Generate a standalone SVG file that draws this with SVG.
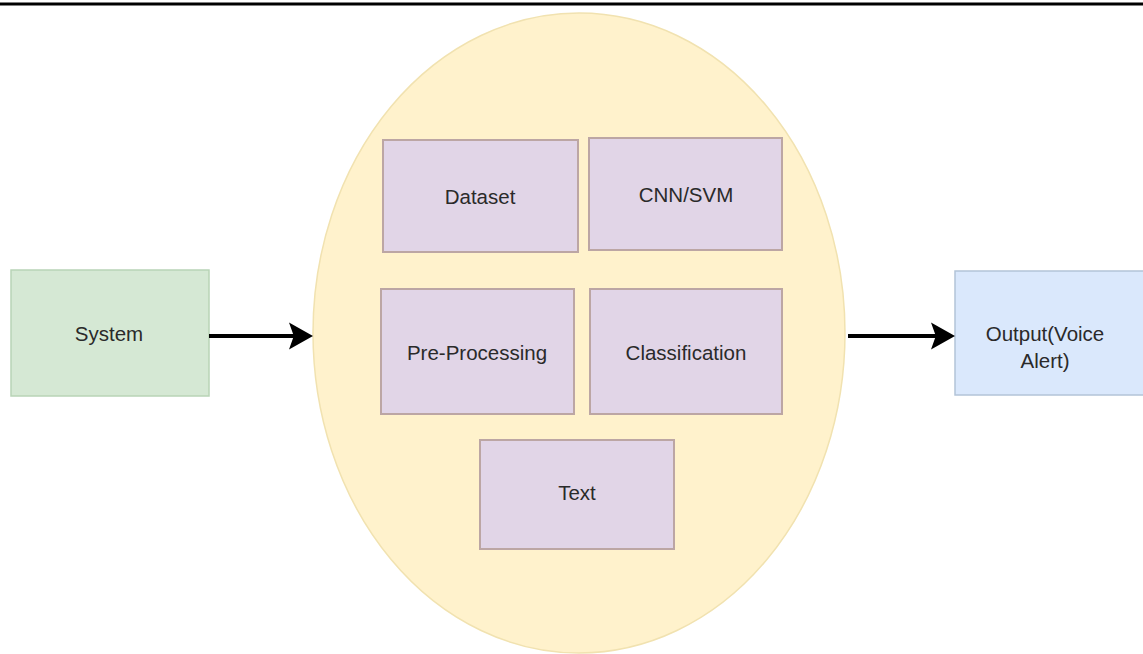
<svg xmlns="http://www.w3.org/2000/svg" width="1143" height="654" viewBox="0 0 1143 654">
<style>
.lbl{font-family:"Liberation Sans",Arial,sans-serif;font-size:20.5px;fill:#2a2a2a;text-anchor:middle;dominant-baseline:central}
.inner{fill:#e1d5e7;stroke:#bca6a4;stroke-width:2}
.conn{stroke:#000;stroke-width:4;fill:none}
</style>
<defs>
<marker id="ah" markerWidth="8" markerHeight="8" refX="2" refY="4" orient="auto" markerUnits="strokeWidth">
<path d="M0,0.6 L6,4 L0,7.4 L1.2,4 Z" fill="#000"/>
</marker>
</defs>
<rect width="1143" height="654" fill="#fff"/>
<line x1="0" y1="4" x2="1143" y2="4" stroke="#000" stroke-width="3"/>
<g id="ellipse">
<ellipse cx="579" cy="333" rx="266" ry="320" fill="#fff2cc" stroke="#f1e2b0" stroke-width="1.5"/>
</g>
<g id="system">
<rect x="11" y="270" width="198" height="126" fill="#d5e8d4" stroke="#b8d4b6" stroke-width="1.5"/>
<text class="lbl" x="109" y="333">System</text>
</g>
<g id="output">
<rect x="955" y="271" width="192" height="124" fill="#dae8fc" stroke="#b3c4d8" stroke-width="1.5"/>
<text class="lbl" x="1045" y="333">Output(Voice</text>
<text class="lbl" x="1045" y="360">Alert)</text>
</g>
<g id="dataset">
<rect class="inner" x="383" y="140" width="195" height="112"/>
<text class="lbl" x="480" y="196">Dataset</text>
</g>
<g id="cnnsvm">
<rect class="inner" x="589" y="138" width="193" height="112"/>
<text class="lbl" x="686" y="194">CNN/SVM</text>
</g>
<g id="preprocessing">
<rect class="inner" x="381" y="289" width="193" height="125"/>
<text class="lbl" x="477" y="352">Pre-Processing</text>
</g>
<g id="classification">
<rect class="inner" x="590" y="289" width="192" height="125"/>
<text class="lbl" x="686" y="352">Classification</text>
</g>
<g id="text">
<rect class="inner" x="480" y="440" width="194" height="109"/>
<text class="lbl" x="577" y="492">Text</text>
</g>
<g id="connectors">
<line class="conn" x1="209" y1="336" x2="297" y2="336" marker-end="url(#ah)"/>
<line class="conn" x1="848" y1="336" x2="939" y2="336" marker-end="url(#ah)"/>
</g>
</svg>
